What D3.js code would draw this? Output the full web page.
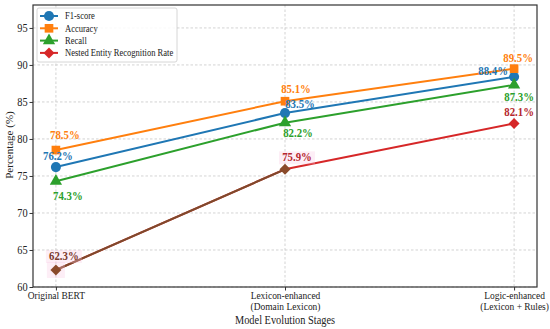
<!DOCTYPE html>
<html>
<head>
<meta charset="utf-8">
<script src="https://cdn.jsdelivr.net/npm/d3@7"></script>
<style>
  body { margin: 0; background: #fff; }
</style>
</head>
<body>
<svg id="chart" width="550" height="329"></svg>
<script>
// data
const stages = ['Original BERT', 'Lexicon-enhanced\n(Domain Lexicon)', 'Logic-enhanced\n(Lexicon + Rules)'];
const f1Score = [76.2, 83.5, 88.4];
const accuracy = [78.5, 85.1, 89.5];
const recall = [74.3, 82.2, 87.3];
const nestedRate = [62.3, 75.9, 82.1];
const yTicks = [60, 65, 70, 75, 80, 85, 90, 95];

const FONT = "'Liberation Serif', Tinos, 'Times New Roman', serif";
const SX = 0.9; // the source picture is a bit narrower than tall, text looks squeezed

const diamond = {
  draw(ctx, size) {
    const r = Math.sqrt(size) / 2 * Math.SQRT2;
    ctx.moveTo(0, -r); ctx.lineTo(r, 0); ctx.lineTo(0, r); ctx.lineTo(-r, 0); ctx.closePath();
  },
};

const series = [
  { name: 'F1-score', values: f1Score, color: '#1f77b4', shape: d3.symbolCircle, size: 80,
    dx: [2, 15, -21], dy: [-7, -5, -2] },
  { name: 'Accuracy', values: accuracy, color: '#ff7f0e', shape: d3.symbolSquare, size: 75,
    dx: [9, 11, 4], dy: [-11, -8, -7] },
  { name: 'Recall', values: recall, color: '#2ca02c', shape: d3.symbolTriangle, size: 65,
    dx: [12, 13, 5], dy: [19, 14, 16] },
  { name: 'Nested Entity Recognition Rate', values: nestedRate, color: '#d62728', shape: diamond, size: 60,
    dx: [8, 12, 5], dy: [-10, -8, -7] },
];

const svg = d3.select('#chart').style('font-family', FONT);
const margin = { left: 33, right: 13, top: 5, bottom: 42 };
const width = +svg.attr('width');
const height = +svg.attr('height');

const x = d3.scaleLinear().domain([-0.1, 2.1]).range([margin.left, width - margin.right]);
const y = d3.scaleLinear().domain([60, 98.1]).range([height - margin.bottom, margin.top]);

// grid
const grid = svg.append('g');
grid.selectAll('line.gy').data(yTicks).enter().append('line')
  .attr('x1', margin.left).attr('x2', width - margin.right)
  .attr('y1', d => y(d)).attr('y2', d => y(d))
  .attr('stroke', '#c8c8c8').attr('stroke-width', 0.8).attr('stroke-dasharray', '2.5,2');
grid.selectAll('line.gx').data(stages).enter().append('line')
  .attr('x1', (d, i) => x(i)).attr('x2', (d, i) => x(i))
  .attr('y1', margin.top).attr('y2', height - margin.bottom)
  .attr('stroke', '#c8c8c8').attr('stroke-width', 0.8).attr('stroke-dasharray', '2.5,2');

// axes
const yAxis = svg.append('g')
  .attr('transform', `translate(${margin.left},0)`)
  .call(d3.axisLeft(y).tickValues(yTicks).tickSize(3.5).tickPadding(2.5));
yAxis.attr('font-family', null);
yAxis.select('.domain').remove();
yAxis.selectAll('text').attr('font-size', 11.5).attr('fill', '#222')
  .attr('transform', `scale(${SX},1)`);
yAxis.selectAll('line').attr('stroke', '#333');

const xAxis = svg.append('g')
  .attr('transform', `translate(0,${height - margin.bottom})`)
  .call(d3.axisBottom(x).tickValues([0, 1, 2]).tickSize(3.5).tickFormat(''));
xAxis.attr('font-family', null);
xAxis.select('.domain').remove();
xAxis.selectAll('line').attr('stroke', '#333');
xAxis.selectAll('.tick').each(function (d) {
  const lines = stages[d].split('\n');
  const t = d3.select(this).append('text')
    .attr('fill', '#222').attr('font-size', 10.5).attr('text-anchor', 'middle')
    .attr('transform', `scale(${SX},1)`);
  lines.forEach((l, i) => {
    t.append('tspan').attr('x', 0).attr('y', 12.5 + i * 10.5).text(l);
  });
});

// frame
svg.append('rect')
  .attr('x', margin.left).attr('y', margin.top)
  .attr('width', width - margin.left - margin.right)
  .attr('height', height - margin.top - margin.bottom)
  .attr('fill', 'none').attr('stroke', '#333').attr('stroke-width', 1.2);

// axis titles
svg.append('text')
  .attr('transform', `translate(13,${(margin.top + height - margin.bottom) / 2 - 1}) rotate(-90)`)
  .attr('text-anchor', 'middle').attr('font-size', 11).attr('fill', '#222')
  .text('Percentage (%)');
svg.append('text')
  .attr('transform', `translate(${(margin.left + width - margin.right) / 2},324) scale(${SX},1)`)
  .attr('text-anchor', 'middle').attr('font-size', 11.5).attr('fill', '#222')
  .text('Model Evolution Stages');

// lines + markers
const line = d3.line().x((d, i) => x(i)).y(d => y(d));
const plot = svg.append('g');
series.forEach((s) => {
  plot.append('path')
    .attr('d', line(s.values))
    .attr('fill', 'none').attr('stroke', s.color).attr('stroke-width', 2);
});
// first nested segment renders brown in the reference
plot.append('path')
  .attr('d', line(nestedRate.slice(0, 2)))
  .attr('fill', 'none').attr('stroke', '#7e4a2c').attr('stroke-width', 2);

// faint highlight boxes behind some labels
series.forEach((s) => {
  if (s.name.startsWith('Nested')) {
    s.values.slice(0, 2).forEach((v, i) => {
      plot.append('rect')
        .attr('x', x(i) + s.dx[i] - 18).attr('y', y(v) + s.dy[i] - 10)
        .attr('width', 36).attr('height', 13)
        .attr('fill', '#f7c6e0').attr('opacity', 0.3);
    });
    plot.append('rect')
      .attr('x', x(0) - 9).attr('y', y(s.values[0]) - 8)
      .attr('width', 18).attr('height', 16)
      .attr('fill', '#f7c6e0').attr('opacity', 0.3);
  }
});

series.forEach((s) => {
  plot.selectAll(null).data(s.values).enter().append('path')
    .attr('transform', (d, i) => `translate(${x(i)},${y(d)})`)
    .attr('d', d3.symbol().type(s.shape).size(s.size))
    .attr('fill', (d, i) => (s.name.startsWith('Nested') && i < 2 ? '#8a4a2a' : s.color));
});

// value labels
series.forEach((s) => {
  plot.selectAll(null).data(s.values).enter().append('text')
    .attr('transform', (d, i) => `translate(${x(i) + s.dx[i]},${y(d) + s.dy[i]}) scale(${SX},1)`)
    .attr('text-anchor', 'middle')
    .attr('font-size', 12).attr('font-weight', 'bold')
    .attr('fill', (d, i) => (s.name.startsWith('Nested') && i === 0 ? '#7a3a2e' : (s.name.startsWith('Nested') ? '#b5272d' : s.color)))
    .text(d => d.toFixed(1) + '%');
});

// legend
const legend = svg.append('g');
legend.append('rect')
  .attr('x', 37).attr('y', 8).attr('width', 140).attr('height', 54).attr('rx', 2)
  .attr('fill', '#fff').attr('fill-opacity', 0.85)
  .attr('stroke', '#ccc').attr('stroke-width', 0.8);
series.forEach((s, i) => {
  const ly = 16 + i * 12.3;
  legend.append('line')
    .attr('x1', 40).attr('x2', 58).attr('y1', ly).attr('y2', ly)
    .attr('stroke', s.color).attr('stroke-width', 2);
  legend.append('path')
    .attr('transform', `translate(49,${ly})`)
    .attr('d', d3.symbol().type(s.shape).size(s.size))
    .attr('fill', s.color);
  legend.append('text')
    .attr('transform', `translate(65,${ly + 3.3}) scale(${SX},1)`)
    .attr('font-size', 9.5).attr('fill', '#222')
    .text(s.name);
});
</script>
</body>
</html>
